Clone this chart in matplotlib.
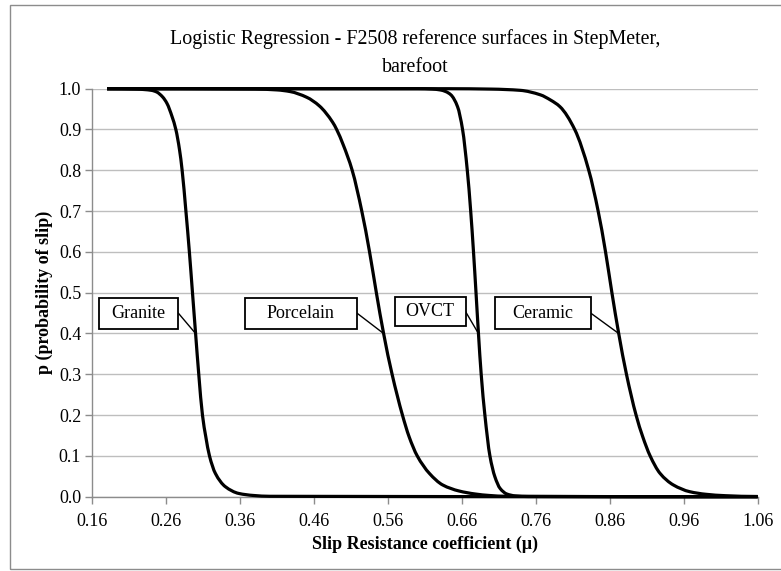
import matplotlib
matplotlib.use("Agg")
import numpy as np
import matplotlib.pyplot as plt
from matplotlib.patches import Rectangle, PathPatch
from matplotlib.path import Path

# ---- data ----
granite_x = [0.18, 0.22, 0.24, 0.247, 0.255, 0.261, 0.268, 0.273, 0.278, 0.2815,
             0.2866, 0.2913, 0.2955, 0.2997, 0.3040, 0.3090, 0.3135, 0.3185, 0.3265, 0.340,
             0.358, 0.378, 0.40, 1.06]
granite_p = [1.0, 0.999, 0.996, 0.992, 0.98, 0.964, 0.931, 0.90, 0.85, 0.80,
             0.70, 0.60, 0.50, 0.40, 0.30, 0.20, 0.147, 0.10, 0.057, 0.0245,
             0.008, 0.003, 0.001, 0.0]

porcelain_x = [0.18, 0.38, 0.41, 0.4275, 0.45, 0.467, 0.485, 0.4905, 0.4995, 0.5115,
               0.5245, 0.535, 0.5442, 0.554, 0.5655, 0.5795, 0.5885, 0.5995, 0.616, 0.634,
               0.6560, 0.678, 0.697, 0.72, 1.06]
porcelain_p = [1.0, 0.999, 0.997, 0.993, 0.979, 0.958, 0.918, 0.90, 0.862, 0.80,
               0.70, 0.60, 0.50, 0.40, 0.30, 0.20, 0.147, 0.10, 0.057, 0.0287,
               0.014, 0.0066, 0.003, 0.001, 0.0]

ovct_x = [0.18, 0.60, 0.62, 0.6305, 0.638, 0.645, 0.654, 0.6608, 0.6672, 0.6718,
          0.6756, 0.679, 0.6823, 0.6860, 0.6910, 0.6978, 0.7045, 0.7117, 0.7207, 0.732,
          0.75, 1.06]
ovct_p = [1.0, 1.0, 0.999, 0.997, 0.993, 0.985, 0.956, 0.90, 0.80, 0.70,
          0.60, 0.50, 0.40, 0.30, 0.20, 0.10, 0.049, 0.02, 0.0066, 0.002,
          0.0005, 0.0]

ceramic_x = [0.18, 0.64, 0.70, 0.7388, 0.766, 0.780, 0.7925, 0.8125, 0.8315, 0.8442,
             0.8542, 0.8628, 0.8720, 0.8825, 0.8955, 0.9045, 0.9145, 0.928, 0.946, 0.9680,
             0.9900, 1.016, 1.06]
ceramic_p = [1.0, 1.0, 0.999, 0.996, 0.985, 0.972, 0.956, 0.90, 0.80, 0.70,
             0.60, 0.50, 0.40, 0.30, 0.20, 0.147, 0.10, 0.057, 0.0287, 0.0123,
             0.0059, 0.0025, 0.0005]

labels = ["Granite", "Porcelain", "OVCT", "Ceramic"]
label_point = [(0.2997, 0.40), (0.554, 0.40), (0.6823, 0.40), (0.8720, 0.40)]

x_ticks = [0.16, 0.26, 0.36, 0.46, 0.56, 0.66, 0.76, 0.86, 0.96, 1.06]
y_ticks = [0.0, 0.1, 0.2, 0.3, 0.4, 0.5, 0.6, 0.7, 0.8, 0.9, 1.0]

title = "Logistic Regression - F2508 reference surfaces in StepMeter,\nbarefoot"
x_label = "Slip Resistance coefficient (\u03bc)"
y_label = "p (probability of slip)"

# label box layout (pixel centre x, centre y, width, height)
box_px = [(138.7, 313.0, 79, 31), (300.8, 313.0, 112, 31),
          (430.0, 311.5, 71, 28.5), (543.0, 313.3, 96, 32)]


def smooth_path(x, y):
    """Shape-preserving cubic (Excel-like smoothed line) rendered as Bezier path."""
    x = np.asarray(x, float)
    y = np.asarray(y, float)
    n = len(x)
    h = np.diff(x)
    delta = np.diff(y) / h
    d = np.zeros(n)
    for k in range(1, n - 1):
        if delta[k - 1] * delta[k] > 0:
            w1 = 2 * h[k] + h[k - 1]
            w2 = h[k] + 2 * h[k - 1]
            d[k] = (w1 + w2) / (w1 / delta[k - 1] + w2 / delta[k])

    def end(h0, h1, d0, d1):
        v = ((2 * h0 + h1) * d0 - h0 * d1) / (h0 + h1)
        if np.sign(v) != np.sign(d0):
            v = 0.0
        elif np.sign(d0) != np.sign(d1) and abs(v) > 3 * abs(d0):
            v = 3 * d0
        return v

    d[0] = end(h[0], h[1], delta[0], delta[1])
    d[-1] = end(h[-1], h[-2], delta[-1], delta[-2])
    verts = [(x[0], y[0])]
    codes = [Path.MOVETO]
    for i in range(n - 1):
        hh = h[i]
        verts += [(x[i] + hh / 3, y[i] + d[i] * hh / 3),
                  (x[i + 1] - hh / 3, y[i + 1] - d[i + 1] * hh / 3),
                  (x[i + 1], y[i + 1])]
        codes += [Path.CURVE4] * 3
    return Path(verts, codes)


# ---- drawing ----
plt.rcParams['font.family'] = ['Liberation Serif', 'DejaVu Serif']
W, H = 781, 571
X0, X1, Y0, Y1 = 92.3, 757.7, 496.7, 88.7
fig = plt.figure(figsize=(W / 100, H / 100), dpi=100)
ax = fig.add_axes([X0 / W, 1 - Y0 / H, (X1 - X0) / W, (Y0 - Y1) / H])

grid_c = "#BEBEBE"
axis_c = "#8C8C8C"
for xs, ps in [(granite_x, granite_p), (porcelain_x, porcelain_p),
               (ovct_x, ovct_p), (ceramic_x, ceramic_p)]:
    ax.add_patch(PathPatch(smooth_path(xs, ps), fill=False, ec="black", lw=2.3,
                           joinstyle="round", capstyle="butt", zorder=3, clip_on=False))

ax.set_xlim(0.16, 1.06)
ax.set_ylim(0.0, 1.0)
ax.set_xticks(x_ticks)
ax.set_xticklabels([f"{v:.2f}" for v in x_ticks])
ax.set_yticks(y_ticks)
ax.set_yticklabels([f"{v:.1f}" for v in y_ticks])
ax.yaxis.grid(True, color=grid_c, lw=1.0)
ax.set_axisbelow(True)
for s in ["top", "right"]:
    ax.spines[s].set_visible(False)
for s in ["left", "bottom"]:
    ax.spines[s].set_color(axis_c)
    ax.spines[s].set_linewidth(1.0)
ax.tick_params(axis="both", direction="out", length=5, width=1.0, color=axis_c,
               labelsize=13, labelcolor="black")
ax.tick_params(axis="x", pad=7)
ax.tick_params(axis="y", pad=3)

# pixel -> data helpers for label box layout
sx = (1.06 - 0.16) / (X1 - X0)
sy = 1.0 / (Y0 - Y1)
for lab, pt, (cx, cy, bw, bh) in zip(labels, label_point, box_px):
    dx = 0.16 + (cx - X0) * sx
    dy = (Y0 - cy) * sy
    w = bw * sx
    hgt = bh * sy
    ax.add_patch(Rectangle((dx - w / 2, dy - hgt / 2), w, hgt, fc="white", ec="black",
                           lw=1.3, zorder=5))
    ax.text(dx, dy, lab, fontsize=13, ha="center", va="center", zorder=6)
    ax.annotate("", xy=pt, xytext=(dx + w / 2, dy), zorder=4,
                arrowprops=dict(arrowstyle="-", color="black", lw=1.0,
                                shrinkA=0, shrinkB=0))

fig.text(0.532, 1 - 53 / H, title, ha="center", va="center", fontsize=14.4,
         linespacing=1.7)
ax.set_xlabel(x_label, fontsize=13, fontweight="bold", labelpad=4)
ax.set_ylabel(y_label, fontsize=13, fontweight="bold", labelpad=4)

fig.add_artist(Rectangle((10 / W, 1 - 569 / H), (790 - 10) / W, (569 - 5) / H,
                         transform=fig.transFigure, fill=False, ec="#8C8C8C", lw=1.0))

fig.savefig("out.png", dpi=100)
